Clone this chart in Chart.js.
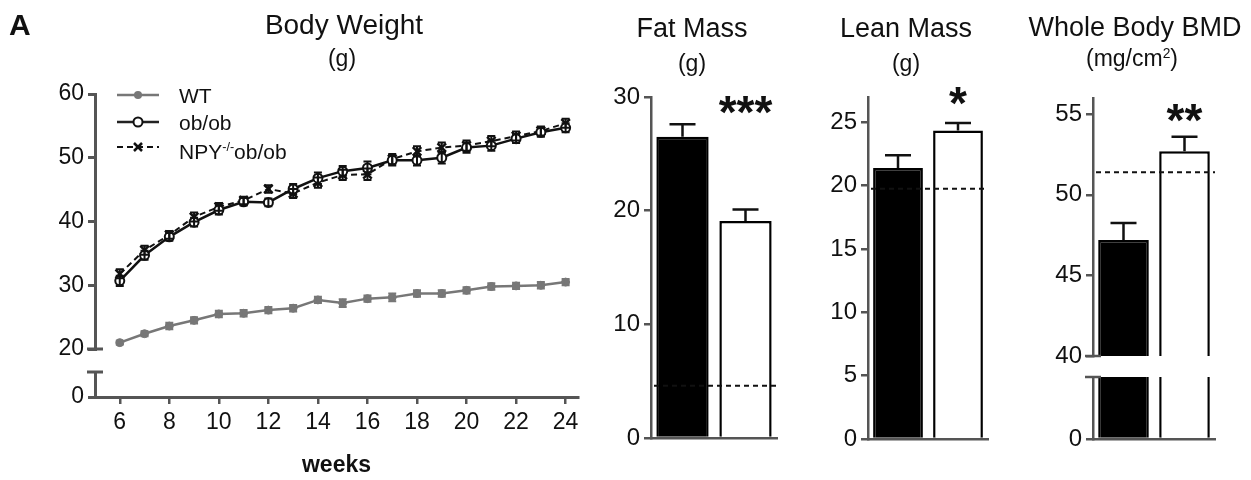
<!DOCTYPE html>
<html>
<head>
<meta charset="utf-8">
<title>Body composition</title>
<script src="https://cdn.jsdelivr.net/npm/chart.js@4.4.1/dist/chart.umd.min.js"></script>
<style>
  html, body { margin: 0; padding: 0; background: #fff; }
  #fig { position: relative; width: 1251px; height: 480px; overflow: hidden;
         font-family: "Liberation Sans", Arial, sans-serif; color: #111; }
  #fig canvas { position: absolute; left: 0; top: 0; }
  .txt { position: absolute; line-height: 1; white-space: nowrap; }
  .ctr { width: 300px; text-align: center; }
  #fig svg { position: absolute; }
  sup { font-size: 0.6em; vertical-align: 0.6em; line-height: 0; }
</style>
</head>
<body>
<div id="fig">
  <canvas id="bwTop" width="1251" height="480"></canvas>
  <canvas id="bwLow" width="1251" height="480"></canvas>
  <canvas id="fat" width="1251" height="480"></canvas>
  <canvas id="lean" width="1251" height="480"></canvas>
  <canvas id="bmdTop" width="1251" height="480"></canvas>
  <canvas id="bmdLow" width="1251" height="480"></canvas>

  <div class="txt" style="left:9px;top:10px;font-size:30px;font-weight:bold">A</div>
  <div class="txt ctr" style="left:194px;top:11px;font-size:28px">Body Weight</div>
  <div class="txt ctr" style="left:192px;top:47px;font-size:23px">(g)</div>
  <div class="txt ctr" style="left:542px;top:15px;font-size:27px">Fat Mass</div>
  <div class="txt ctr" style="left:542px;top:52px;font-size:23px">(g)</div>
  <div class="txt ctr" style="left:756px;top:15px;font-size:27px">Lean Mass</div>
  <div class="txt ctr" style="left:756px;top:52px;font-size:23px">(g)</div>
  <div class="txt ctr" style="left:985px;top:14px;font-size:27px">Whole Body BMD</div>
  <div class="txt ctr" style="left:982px;top:47px;font-size:23px">(mg/cm<sup>2</sup>)</div>

  <!-- legend -->
  <svg style="left:115px;top:87px" width="46" height="16">
    <line x1="2" y1="8" x2="44" y2="8" stroke="#777" stroke-width="2.5"/>
    <circle cx="23" cy="8" r="4" fill="#777"/>
  </svg>
  <svg style="left:115px;top:114px" width="46" height="16">
    <line x1="2" y1="8" x2="44" y2="8" stroke="#222" stroke-width="2.5"/>
    <circle cx="23" cy="8" r="4.5" fill="#fff" stroke="#111" stroke-width="2"/>
  </svg>
  <svg style="left:115px;top:139px" width="46" height="16">
    <line x1="2" y1="8" x2="44" y2="8" stroke="#111" stroke-width="2" stroke-dasharray="6 4"/>
    <line x1="19" y1="4" x2="27" y2="12" stroke="#111" stroke-width="2.5"/>
    <line x1="27" y1="4" x2="19" y2="12" stroke="#111" stroke-width="2.5"/>
  </svg>
  <div class="txt" style="left:179px;top:85px;font-size:21px">WT</div>
  <div class="txt" style="left:179px;top:112px;font-size:21px">ob/ob</div>
  <div class="txt" style="left:179px;top:141px;font-size:21px">NPY<sup>-/-</sup>ob/ob</div>
</div>

<script>
// body weight over time
var weeks = [6, 7, 8, 9, 10, 11, 12, 13, 14, 15, 16, 17, 18, 19, 20, 21, 22, 23, 24];
var wtWeight = [21.0, 22.4, 23.6, 24.5, 25.5, 25.6, 26.1, 26.4, 27.7, 27.2, 27.9, 28.1, 28.7, 28.7, 29.2, 29.8, 29.9, 30.0, 30.5];
var wtSem = [0.3, 0.4, 0.5, 0.5, 0.5, 0.5, 0.5, 0.5, 0.5, 0.6, 0.5, 0.6, 0.5, 0.5, 0.5, 0.5, 0.5, 0.5, 0.5];
var obWeight = [30.7, 34.7, 37.6, 39.9, 41.8, 43.1, 43.0, 45.1, 46.8, 47.9, 48.4, 49.6, 49.6, 50.0, 51.6, 51.9, 53.0, 54.0, 54.7];
var obSem = [0.8, 0.7, 0.6, 0.7, 0.7, 0.6, 0.6, 0.8, 0.9, 0.8, 1.0, 0.8, 0.8, 0.9, 0.8, 0.8, 0.7, 0.7, 0.7];
var npyWeight = [31.8, 35.5, 37.9, 40.7, 42.3, 43.3, 45.1, 44.4, 46.1, 47.3, 47.4, 49.8, 51.0, 51.6, 51.9, 52.6, 53.4, 54.2, 55.4];
var npySem = [0.7, 0.7, 0.6, 0.7, 0.6, 0.6, 0.6, 0.7, 0.8, 0.8, 0.9, 0.8, 0.8, 0.8, 0.8, 0.8, 0.7, 0.7, 0.7];
var weekTicks = [6, 8, 10, 12, 14, 16, 18, 20, 22, 24];
var bwTicks = [20, 30, 40, 50, 60];
var zeroTick = [0];

// DEXA bars (ob/ob black, NPY-/-ob/ob white), dashed line = WT mean
var groups = ['ob/ob', 'NPY-/-ob/ob'];
var fatMass = [26.5, 19.1];
var fatSem = [1.1, 1.0];
var fatWT = 4.6;
var leanMass = [21.4, 24.35];
var leanSem = [1.0, 0.6];
var leanWT = 19.75;
var bmd = [47.2, 52.7];
var bmdSem = [1.05, 0.9];
var bmdWT = 51.4;
var fatTicks = [0, 10, 20, 30];
var leanTicks = [0, 5, 10, 15, 20, 25];
var bmdTicks = [40, 45, 50, 55];

var AXIS = '#555';
var FONT = '"Liberation Sans", Arial, sans-serif';
Chart.defaults.font.family = FONT;
Chart.defaults.color = '#111';

var errorBars = {
    id: 'errorBars',
    afterDatasetsDraw: function(chart) {
        var ctx = chart.ctx;
        var up = chart.config.type === 'bar';
        chart.data.datasets.forEach(function(ds, i) {
            if (!ds.sem) return;
            var meta = chart.getDatasetMeta(i);
            var ys = chart.scales[meta.yAxisID];
            var hw = ds.capHalf || 4;
            ctx.save();
            ctx.strokeStyle = ds.errColor || '#111';
            ctx.lineWidth = ds.errWidth || 2.5;
            meta.data.forEach(function(el, j) {
                var v = ds.data[j], e = ds.sem[j];
                var top = ys.getPixelForValue(v + e);
                var bot = up ? ys.getPixelForValue(v) : ys.getPixelForValue(v - e);
                ctx.beginPath();
                ctx.moveTo(el.x, bot);
                ctx.lineTo(el.x, top);
                ctx.moveTo(el.x - hw, top);
                ctx.lineTo(el.x + hw, top);
                if (!up) {
                    ctx.moveTo(el.x - hw, bot);
                    ctx.lineTo(el.x + hw, bot);
                }
                ctx.stroke();
            });
            ctx.restore();
        });
    }
};

// dashed WT reference line + significance stars
var refMarks = {
    id: 'refMarks',
    afterDatasetsDraw: function(chart, args, o) {
        if (o.wt == null) return;
        var ctx = chart.ctx, a = chart.chartArea;
        var xs = chart.scales.x, ys = chart.scales.y;
        var py = ys.getPixelForValue(o.wt);
        ctx.save();
        ctx.strokeStyle = '#111';
        ctx.lineWidth = 2;
        ctx.setLineDash([5, 4]);
        ctx.beginPath();
        ctx.moveTo(a.left + 3, py);
        ctx.lineTo(a.right, py);
        ctx.stroke();
        ctx.setLineDash([]);
        ctx.font = 'bold 46px ' + FONT;
        ctx.fillStyle = '#111';
        ctx.textAlign = 'center';
        ctx.textBaseline = 'alphabetic';
        ctx.fillText(o.stars, xs.getPixelForValue(1), ys.getPixelForValue(o.starY) + 0.58 * 46);
        ctx.restore();
    }
};

// axis break caps
var axisBreak = {
    id: 'axisBreak',
    afterDraw: function(chart, args, o) {
        if (!o.edge) return;
        var s = chart.scales.y, ctx = chart.ctx;
        var y = o.edge === 'top' ? s.top : s.bottom;
        ctx.save();
        ctx.strokeStyle = AXIS;
        ctx.lineWidth = o.width || 2.5;
        ctx.beginPath();
        ctx.moveTo(s.right - 8, y);
        ctx.lineTo(s.right + 8, y);
        ctx.stroke();
        ctx.restore();
    }
};

function yScale(min, max, ticks, size, lw) {
    return {
        position: 'left',
        min: min,
        max: max,
        afterBuildTicks: function(s) { s.ticks = ticks.map(function(v) { return {value: v}; }); },
        afterFit: function(s) { s.width = 60; },
        border: {color: AXIS, width: lw},
        grid: {drawOnChartArea: false, tickLength: 7, color: AXIS, lineWidth: lw},
        ticks: {font: {size: size}, color: '#111', padding: 4}
    };
}

function baseOpts(pad, plugins, scales) {
    plugins.legend = {display: false};
    plugins.tooltip = {enabled: false};
    return {
        responsive: false,
        animation: false,
        events: [],
        layout: {padding: pad},
        plugins: plugins,
        scales: scales
    };
}

// ---- body weight, upper segment ----
new Chart(document.getElementById('bwTop'), {
    type: 'line',
    data: {
        labels: weeks,
        datasets: [{
            label: 'WT', data: wtWeight, sem: wtSem, errColor: '#777', errWidth: 2, capHalf: 4,
            borderColor: '#777', borderWidth: 2.5, tension: 0,
            pointRadius: 4, pointBackgroundColor: '#777', pointBorderColor: '#777', pointBorderWidth: 1
        }, {
            label: 'ob/ob', data: obWeight, sem: obSem, errWidth: 2, capHalf: 4,
            borderColor: '#111', borderWidth: 2.5, tension: 0,
            pointRadius: 4.5, pointBackgroundColor: '#fff', pointBorderColor: '#111', pointBorderWidth: 2
        }, {
            label: 'NPY-/-ob/ob', data: npyWeight, sem: npySem, errWidth: 2, capHalf: 4,
            borderColor: '#111', borderWidth: 2, borderDash: [6, 4], tension: 0,
            pointStyle: 'crossRot', pointRadius: 6, pointBorderColor: '#111', pointBorderWidth: 2.5
        }]
    },
    options: baseOpts({left: 35, right: 673, top: 94, bottom: 131},
        {axisBreak: {edge: 'bottom', width: 3}},
        {
            x: {type: 'linear', min: 5, max: 24.5, display: false},
            y: yScale(20, 60, bwTicks, 23, 3)
        }),
    plugins: [errorBars, axisBreak]
});

// ---- body weight, lower segment + weeks axis ----
new Chart(document.getElementById('bwLow'), {
    type: 'line',
    data: {labels: [], datasets: []},
    options: baseOpts({left: 35, right: 673, top: 372, bottom: 1},
        {axisBreak: {edge: 'top', width: 3}},
        {
            x: {
                type: 'linear', min: 5, max: 24.5,
                afterBuildTicks: function(s) { s.ticks = weekTicks.map(function(v) { return {value: v}; }); },
                afterFit: function(s) { s.height = 82; },
                border: {color: AXIS, width: 3},
                grid: {drawOnChartArea: false, tickLength: 7, color: AXIS, lineWidth: 2.5},
                ticks: {font: {size: 23}, color: '#111', padding: 5, maxRotation: 0, autoSkip: false},
                title: {display: true, text: 'weeks', font: {size: 23, weight: 'bold'}, color: '#111', padding: 0}
            },
            y: yScale(0, 5, zeroTick, 23, 3)
        }),
    plugins: [axisBreak]
});

function barChart(id, values, sem, pad, yOpts, refs, brk, showBase) {
    var ds = {
        data: values, backgroundColor: ['#000', '#fff'], borderColor: '#000',
        borderWidth: 2.5, borderSkipped: 'start', categoryPercentage: 1, barPercentage: 0.83, clip: 0
    };
    if (sem) { ds.sem = sem; ds.capHalf = 13; ds.errWidth = 2.5; }
    var plugins = {};
    if (refs) plugins.refMarks = refs;
    if (brk) plugins.axisBreak = {edge: brk, width: 2.5};
    return new Chart(document.getElementById(id), {
        type: 'bar',
        data: {labels: groups, datasets: [ds]},
        options: baseOpts(pad, plugins, {
            x: {
                afterFit: function(s) { s.height = 0; },
                ticks: {display: false},
                grid: {display: false},
                border: {display: showBase !== false, color: AXIS, width: 2.5}
            },
            y: yOpts
        }),
        plugins: [errorBars, refMarks, axisBreak]
    });
}

barChart('fat', fatMass, fatSem, {left: 591, right: 474, top: 97, bottom: 42},
    yScale(0, 30, fatTicks, 24, 2.5), {wt: fatWT, stars: '***', starY: 29.6});

barChart('lean', leanMass, leanSem, {left: 808, right: 263, top: 97, bottom: 41},
    yScale(0, 27, leanTicks, 24, 2.5), {wt: leanWT, stars: '*', starY: 27.4});

// broken BMD axis: upper 40-56 segment has no baseline, lower 0 segment carries the x axis
barChart('bmdTop', bmd, bmdSem, {left: 1033, right: 36, top: 98, bottom: 124},
    yScale(40, 56, bmdTicks, 24, 2.5), {wt: bmdWT, stars: '**', starY: 55.3}, 'bottom', false);

barChart('bmdLow', bmd, null, {left: 1033, right: 36, top: 377, bottom: 41},
    yScale(0, 10, zeroTick, 24, 2.5), null, 'top');
</script>
</body>
</html>
